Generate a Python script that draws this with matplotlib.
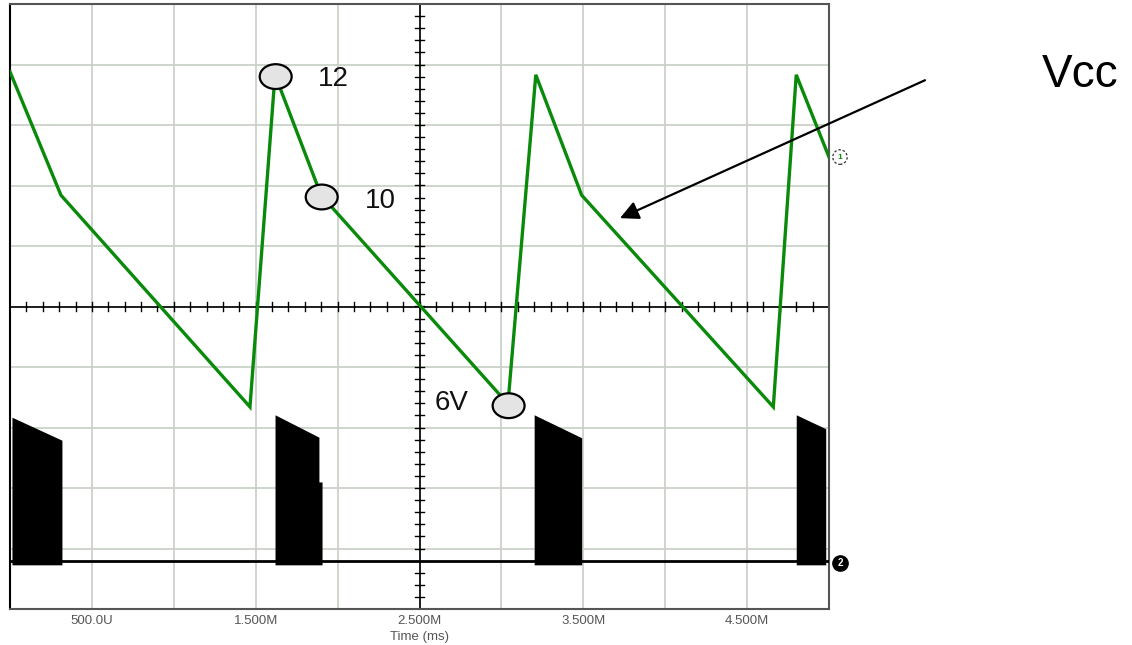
import numpy as np
import matplotlib
matplotlib.use("Agg")
from matplotlib import pyplot as plt
from matplotlib.patches import Ellipse
from matplotlib.transforms import Bbox, TransformedBbox

plt.rcParams['font.family'] = ['Liberation Sans', 'DejaVu Sans']

# time in ms, voltage in screen divisions (0..10)
vcc_t = [0.0, 0.311, 1.465, 1.618, 1.899, 3.040, 3.210, 3.490, 4.660, 4.800, 5.0]
vcc_v = [8.88, 6.84, 3.34, 8.83, 6.84, 3.39, 8.83, 6.84, 3.34, 8.83, 7.47]

# gate drive bursts: time edges and top envelope of each switching burst
burst_t = [[0.012, 0.317],
           [1.618, 1.886, 1.886, 1.905],
           [3.200, 3.490],
           [4.800, 4.980]]
burst_top = [[3.17, 2.79],
             [3.21, 2.84, 2.10, 2.10],
             [3.21, 2.83],
             [3.21, 2.98]]
gate_base = 0.79
gate_low = 0.73

xtick_pos = [0.5, 1.5, 2.5, 3.5, 4.5]
xtick_lab = ['500.0U', '1.500M', '2.500M', '3.500M', '4.500M']

fig = plt.figure(figsize=(11.32, 6.45), dpi=100)
ax = fig.add_axes([10 / 1132, 36 / 645, 819 / 1132, 605 / 645])
ax.set_xlim(0, 5)
ax.set_ylim(0, 10)

# scope graticule
for gx in np.arange(0.5, 5.0, 0.5):
    ax.axvline(gx, color='#c9d2c9', lw=1.3, zorder=0)
for gy in range(1, 10):
    ax.axhline(gy, color='#c9d2c9', lw=1.3, zorder=0)
ax.axvline(2.5, color='black', lw=1.2, zorder=1)
ax.axhline(5, color='black', lw=1.2, zorder=1)
for tx in np.arange(0.1, 5.0, 0.1):
    ax.plot([tx, tx], [4.93, 5.07], color='black', lw=1.0, zorder=1)
for ty in np.arange(0.2, 10.0, 0.2):
    ax.plot([2.47, 2.53], [ty, ty], color='black', lw=1.0, zorder=1)

for s in ax.spines.values():
    s.set_color('#555555')
    s.set_linewidth(1.5)
ax.spines['left'].set_color('black')

ax.set_yticks([])
ax.set_xticks(xtick_pos)
ax.set_xticklabels(xtick_lab, fontsize=9.5, color='#555555')
ax.tick_params(axis='x', length=0, pad=4)
ax.set_xlabel('Time (ms)', fontsize=9.5, color='#555555', labelpad=3)

# channel 2: gate drive
ax.plot([0, 5], [gate_base, gate_base], color='black', lw=2.0, zorder=3)
for bt, btop in zip(burst_t, burst_top):
    ax.fill_between(bt, gate_low, btop, color='black', lw=0, zorder=3)

# channel 1: Vcc
ax.plot(vcc_t, vcc_v, color='#0a8a0a', lw=2.4, zorder=4, solid_joinstyle='miter')

# labelled points on the Vcc trace (text box cuts off the bottom of the glyphs)
marks = [(3, '12', 0.26, -0.07), (4, '10', 0.27, -0.1), (5, '6V', -0.45, 0.02)]
for idx, lab, dx, dy in marks:
    px, py = vcc_t[idx], vcc_v[idx]
    ax.add_patch(Ellipse((px + 0.004, py - 0.03), 0.195, 0.41,
                         facecolor='#e4e4e4', edgecolor='black', lw=1.6, zorder=6))
    tx, ty = px + dx, py + dy
    t = ax.text(tx, ty, lab, fontsize=20, ha='left', va='center',
                color='#111111', zorder=6)
    t.set_clip_box(TransformedBbox(Bbox([[tx - 0.1, ty - 0.13], [tx + 0.5, ty + 0.6]]),
                                   ax.transData))
    t.set_clip_on(True)

# channel markers at the right edge
ax.add_patch(Ellipse((5.067, 7.47), 0.088, 0.24, facecolor='white',
                     edgecolor='#333333', lw=0.9, ls=(0, (2, 1.5)),
                     clip_on=False, zorder=6))
ax.text(5.067, 7.47, '1', fontsize=6, color='#0a8a0a', fontweight='bold',
        ha='center', va='center', clip_on=False, zorder=7)
ax.plot([5.067], [0.76], 'o', ms=11, mfc='black', mec='black',
        ls='none', clip_on=False, zorder=6)
ax.text(5.067, 0.76, '2', fontsize=7, color='white', fontweight='bold',
        ha='center', va='center', clip_on=False, zorder=7)

# Vcc callout
ax.annotate('', xy=(3.724, 6.46), xytext=(5.586, 8.74),
            arrowprops=dict(arrowstyle='-|>', color='black', lw=1.6,
                            mutation_scale=28, shrinkA=0, shrinkB=0),
            annotation_clip=False, zorder=8)
fig.text(1080 / 1132, 1 - 75 / 645, 'Vcc', fontsize=33, ha='center', va='center')

plt.savefig('out.png', dpi=100)
